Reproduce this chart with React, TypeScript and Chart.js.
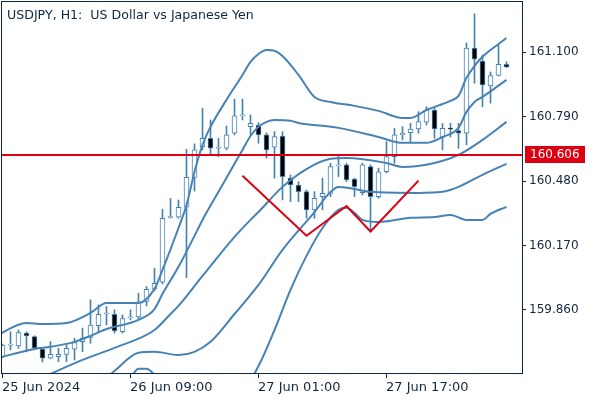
import React, { useEffect, useRef } from "react";
import { Chart, registerables } from "chart.js";

Chart.register(...registerables);

// ---- Data (USDJPY H1) ----
const titleText = "USDJPY, H1:  US Dollar vs Japanese Yen";
const xTickIndex = [0, 16, 32, 48];
const xTickLabels = ["25 Jun 2024", "26 Jun 09:00", "27 Jun 01:00", "27 Jun 17:00"];
const yTicks = [159.86, 160.17, 160.48, 160.79, 161.1];
const yMin = 159.556;
const yMax = 161.342;

const opens = [
  159.635, 159.69, 159.686, 159.748, 159.731, 159.671, 159.627, 159.635, 159.646, 159.671,
  159.707, 159.727, 159.784, 159.84, 159.839, 159.755, 159.821, 159.826, 159.9, 159.959,
  159.993, 160.304, 160.306, 160.354, 160.498, 160.646, 160.686, 160.638, 160.638, 160.71,
  160.794, 160.742, 160.75, 160.702, 160.643, 160.697, 160.494, 160.461, 160.429, 160.341,
  160.405, 160.421, 160.553, 160.558, 160.489, 160.424, 160.55, 160.405, 160.525, 160.598,
  160.702, 160.713, 160.731, 160.763, 160.822, 160.691, 160.734, 160.723, 160.71, 161.12,
  161.058, 160.938, 160.988, 161.042,
];
const highs = [
  159.695, 159.755, 159.763, 159.755, 159.735, 159.672, 159.707, 159.675, 159.691, 159.723,
  159.772, 159.908, 159.884, 159.876, 159.86, 159.836, 159.86, 159.94, 159.972, 160.06,
  160.344, 160.397, 160.389, 160.633, 160.659, 160.831, 160.774, 160.686, 160.745, 160.874,
  160.874, 160.798, 160.761, 160.712, 160.718, 160.718, 160.51, 160.477, 160.437, 160.429,
  160.494, 160.566, 160.606, 160.566, 160.494, 160.566, 160.558, 160.542, 160.67, 160.734,
  160.742, 160.758, 160.814, 160.838, 160.831, 160.758, 160.758, 160.758, 161.145, 161.285,
  161.087, 161.005, 161.135, 161.054,
];
const lows = [
  159.63, 159.667, 159.675, 159.658, 159.672, 159.609, 159.624, 159.611, 159.611, 159.619,
  159.659, 159.699, 159.755, 159.787, 159.748, 159.748, 159.812, 159.812, 159.879, 159.951,
  159.985, 160.301, 160.301, 160.015, 160.432, 160.63, 160.606, 160.598, 160.63, 160.702,
  160.774, 160.702, 160.662, 160.59, 160.494, 160.389, 160.381, 160.381, 160.301, 160.301,
  160.341, 160.405, 160.501, 160.477, 160.405, 160.413, 160.237, 160.397, 160.519, 160.566,
  160.678, 160.67, 160.71, 160.75, 160.686, 160.63, 160.692, 160.638, 160.654, 160.951,
  160.838, 160.855, 160.986, 161.028,
];
const closes = [
  159.691, 159.692, 159.75, 159.735, 159.675, 159.627, 159.646, 159.646, 159.675, 159.702,
  159.723, 159.787, 159.839, 159.843, 159.759, 159.818, 159.823, 159.898, 159.959, 159.988,
  160.301, 160.307, 160.354, 160.498, 160.63, 160.686, 160.638, 160.641, 160.702, 160.794,
  160.796, 160.758, 160.702, 160.63, 160.694, 160.501, 160.461, 160.429, 160.341, 160.397,
  160.421, 160.55, 160.555, 160.486, 160.453, 160.558, 160.405, 160.525, 160.598, 160.702,
  160.71, 160.73, 160.766, 160.822, 160.731, 160.734, 160.73, 160.71, 161.12, 161.067,
  160.943, 160.988, 161.042, 161.028,
];

// Bollinger-style bands (candle index -> price)
const upper2X = [-1, 3, 5, 8, 11, 13, 17, 19, 20, 22, 23, 24, 25, 26, 28, 30, 31, 32, 33, 34, 35, 37, 39, 41, 44, 47, 50, 51, 53, 55, 56, 57, 58, 59, 60, 62, 63];
const upper2 = [159.73, 159.797, 159.792, 159.797, 159.845, 159.893, 159.893, 159.961, 160.052, 160.254, 160.365, 160.524, 160.654, 160.741, 160.871, 160.991, 161.054, 161.092, 161.111, 161.107, 161.082, 160.991, 160.885, 160.861, 160.842, 160.818, 160.784, 160.784, 160.822, 160.851, 160.866, 160.89, 160.977, 161.034, 161.078, 161.14, 161.169];
const upper1X = [-1, 4, 6, 9, 11, 13, 17, 19, 20, 22, 24, 25, 27, 29, 30, 31, 32, 33, 34, 36, 37, 42, 47, 50, 53, 55, 57, 58, 59, 60, 63];
const upper1 = [159.624, 159.672, 159.682, 159.706, 159.735, 159.768, 159.812, 159.864, 159.937, 160.067, 160.216, 160.293, 160.428, 160.563, 160.63, 160.697, 160.741, 160.765, 160.774, 160.77, 160.76, 160.736, 160.692, 160.664, 160.664, 160.692, 160.736, 160.813, 160.861, 160.885, 160.967];
const midX = [3, 6, 10, 14, 19, 21, 22, 25, 29, 31, 32, 35, 38, 41, 43, 48, 50, 54, 57, 60, 63];
const mid = [159.503, 159.552, 159.619, 159.677, 159.763, 159.84, 159.879, 160.023, 160.211, 160.293, 160.331, 160.452, 160.538, 160.587, 160.591, 160.567, 160.548, 160.567, 160.606, 160.678, 160.765];
const lower1X = [13, 14, 17, 19, 22, 24, 26, 29, 32, 35, 39, 41, 42, 44, 46, 52, 55, 57, 60, 63];
const lower1 = [159.532, 159.566, 159.653, 159.658, 159.643, 159.658, 159.706, 159.84, 159.98, 160.149, 160.331, 160.428, 160.452, 160.442, 160.428, 160.423, 160.428, 160.452, 160.51, 160.563];
const lower2X = [16, 17, 18, 19, 20, 31, 32, 34, 36, 38, 40, 42, 43, 44, 45, 47, 51, 54, 56, 58, 60, 61, 63];
const lower2 = [159.532, 159.576, 159.576, 159.547, 159.499, 159.532, 159.59, 159.763, 159.956, 160.12, 160.254, 160.341, 160.351, 160.327, 160.293, 160.283, 160.303, 160.307, 160.317, 160.293, 160.293, 160.322, 160.356];

// Horizontal level and drawn W pattern
const redLevel = 160.606;
const wX = [30, 38, 43, 46, 52];
const wY = [160.506, 160.217, 160.36, 160.237, 160.482];

const NAVY = "#0f2740";
const BLUE = "#4682b4";
const RED = "#dd0011";
const FONT = '"DejaVu Sans", sans-serif';

export default function App() {
  const ref = useRef<HTMLCanvasElement | null>(null);

  useEffect(() => {
    document.body.style.margin = "0";
    const canvas = ref.current;
    if (!canvas) return;

    const idx = opens.map((_, i) => i);
    const wickData = idx.map((i) => ({ x: i, y: [lows[i], highs[i]] }));
    const bodyData = idx.map((i) => ({ x: i, y: [opens[i], closes[i]] }));
    const bodyColors = idx.map((i) => (closes[i] >= opens[i] ? "#ffffff" : "#000000"));
    const pts = (xs: number[], ys: number[]) => xs.map((x, k) => ({ x, y: ys[k] }));
    const band = (data: any[]) => ({
      type: "line",
      data,
      borderColor: BLUE,
      borderWidth: 2,
      pointRadius: 0,
      cubicInterpolationMode: "monotone",
      fill: false,
      order: 2,
    });

    const overlay = {
      id: "overlay",
      afterDraw(chart: any) {
        const ctx = chart.ctx as CanvasRenderingContext2D;
        const a = chart.chartArea;
        const xs = chart.scales.x;
        const ys = chart.scales.y;
        ctx.save();
        // frame
        ctx.strokeStyle = NAVY;
        ctx.lineWidth = 1;
        ctx.strokeRect(a.left - 0.5, a.top - 0.5, a.right - a.left + 1, a.bottom - a.top + 1);
        // title
        ctx.fillStyle = NAVY;
        ctx.font = `12.6px ${FONT}`;
        ctx.textAlign = "left";
        ctx.textBaseline = "alphabetic";
        ctx.fillText(titleText, 7, 19);
        // x ticks + labels
        ctx.font = `13px ${FONT}`;
        xTickIndex.forEach((v, k) => {
          const px = Math.floor(xs.getPixelForValue(v));
          ctx.beginPath();
          ctx.moveTo(px + 0.5, a.bottom);
          ctx.lineTo(px + 0.5, a.bottom + 5);
          ctx.stroke();
          ctx.fillText(xTickLabels[k], px, 391);
        });
        // level label
        const yp = ys.getPixelForValue(redLevel);
        ctx.fillStyle = RED;
        ctx.fillRect(525, Math.round(yp - 9), 60, 17);
        ctx.fillStyle = "#ffffff";
        ctx.font = `12px ${FONT}`;
        ctx.textBaseline = "middle";
        ctx.fillText(redLevel.toFixed(3), 530, Math.round(yp - 9) + 9);
        ctx.restore();
      },
    };

    const chart = new Chart(canvas, {
      type: "bar",
      data: {
        datasets: [
          {
            type: "bar",
            data: wickData as any,
            backgroundColor: BLUE,
            borderWidth: 0,
            barThickness: 1,
            grouped: false,
            order: 5,
          } as any,
          {
            type: "bar",
            data: bodyData as any,
            backgroundColor: bodyColors,
            borderColor: BLUE,
            borderWidth: 1,
            borderSkipped: false,
            barThickness: 5,
            minBarLength: 1,
            grouped: false,
            order: 4,
          } as any,
          band(pts(upper2X, upper2)),
          band(pts(upper1X, upper1)),
          band(pts(midX, mid)),
          band(pts(lower1X, lower1)),
          band(pts(lower2X, lower2)),
          {
            type: "line",
            data: [
              { x: -1, y: redLevel },
              { x: 66, y: redLevel },
            ],
            borderColor: RED,
            borderWidth: 2,
            pointRadius: 0,
            clip: 0,
            order: 1,
          } as any,
          {
            type: "line",
            data: pts(wX, wY),
            borderColor: RED,
            borderWidth: 2,
            pointRadius: 0,
            tension: 0,
            order: 0,
          } as any,
        ] as any,
      },
      options: {
        responsive: false,
        animation: false,
        devicePixelRatio: 1,
        events: [],
        layout: { padding: { left: 2, top: 2, right: 0, bottom: 0 } },
        plugins: {
          legend: { display: false },
          tooltip: { enabled: false },
          title: { display: false },
        },
        scales: {
          x: {
            type: "linear",
            min: -0.0625,
            max: 64.9375,
            offset: false,
            grid: { display: false },
            border: { display: false },
            ticks: { display: false },
            afterFit: (s: any) => {
              s.height = 27;
              s.paddingLeft = 0;
              s.paddingRight = 0;
            },
          },
          y: {
            type: "linear",
            position: "right",
            min: yMin,
            max: yMax,
            beginAtZero: false,
            grid: { drawOnChartArea: false, drawTicks: true, tickLength: 4, color: NAVY },
            border: { display: false },
            ticks: {
              color: NAVY,
              font: { family: FONT, size: 12 },
              padding: 3,
              callback: (v: any) => Number(v).toFixed(3),
            },
            afterBuildTicks: (s: any) => {
              s.ticks = yTicks.map((v) => ({ value: v }));
            },
            afterFit: (s: any) => {
              s.width = 78;
              s.paddingTop = 0;
              s.paddingBottom = 0;
            },
          },
        },
      } as any,
      plugins: [overlay],
    });

    return () => chart.destroy();
  }, []);

  return (
    <div style={{ width: 600, height: 400 }}>
      <canvas ref={ref} width={600} height={400} style={{ display: "block" }} />
    </div>
  );
}
